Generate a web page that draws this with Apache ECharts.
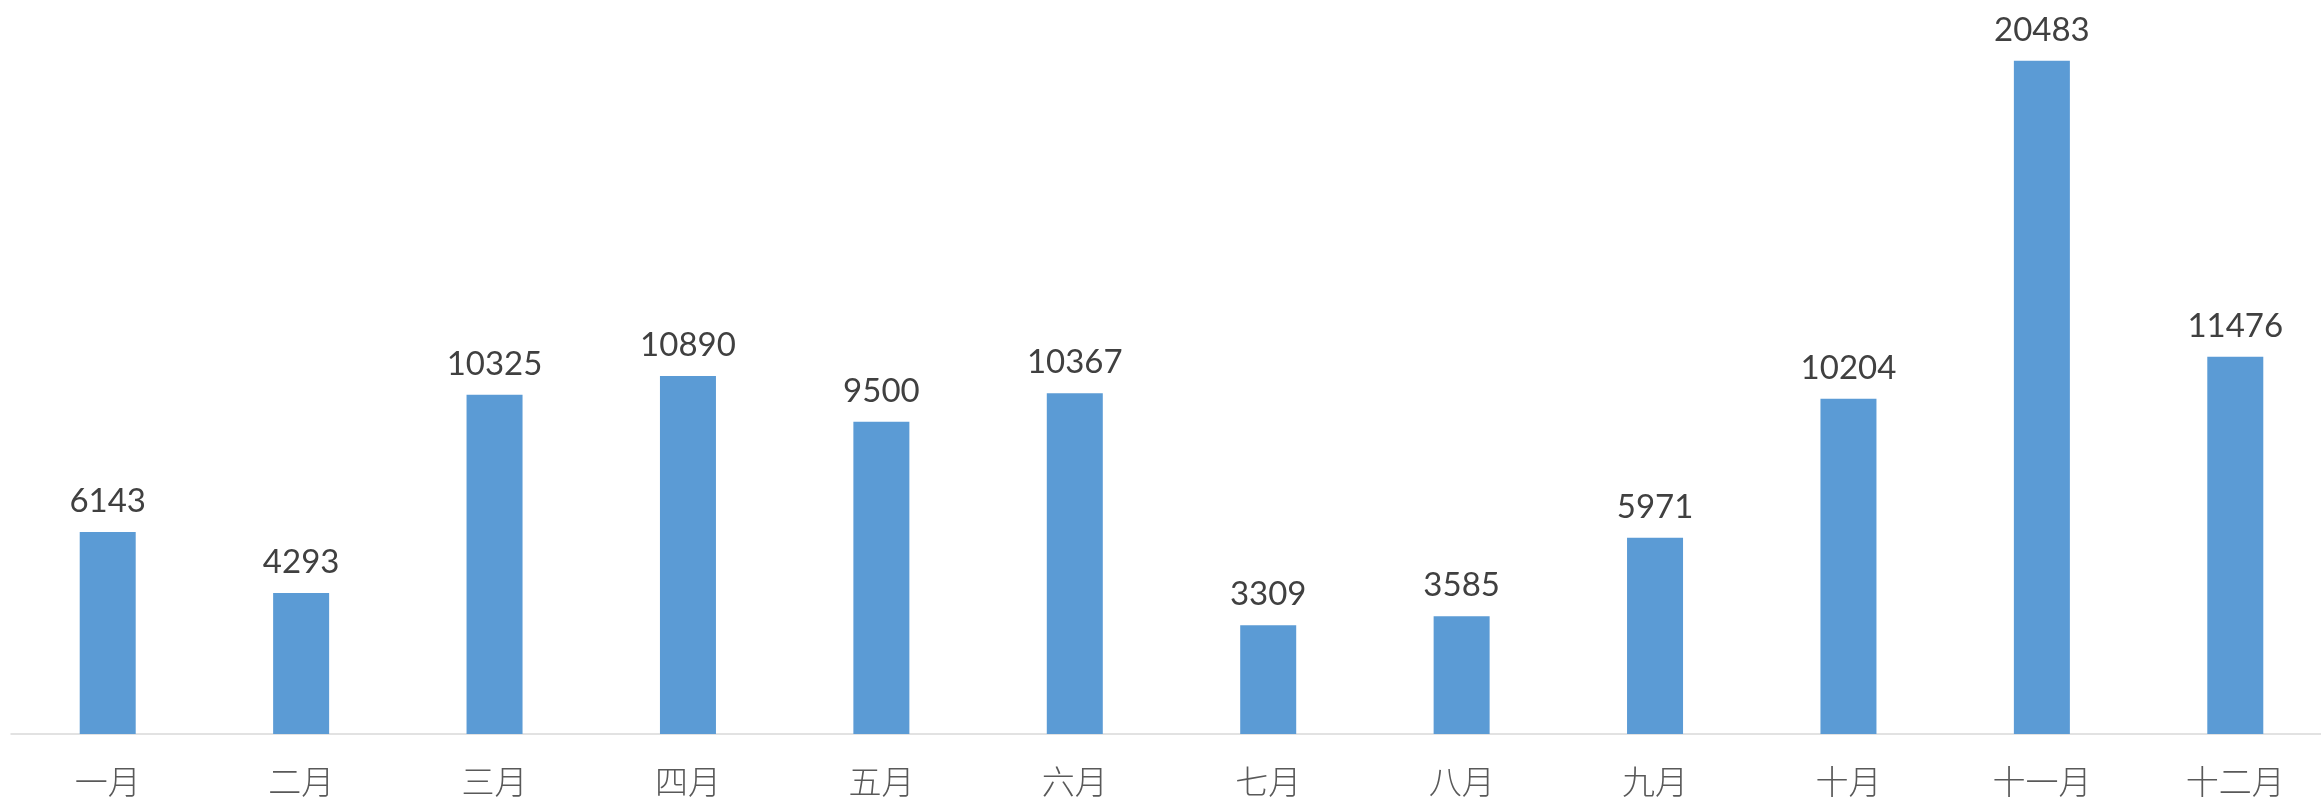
<!DOCTYPE html>
<html>
<head>
<meta charset="utf-8">
<style>
  html, body { margin: 0; padding: 0; background: #fff; }
  #chart { width: 2321px; height: 804px; }
</style>
<script src="https://cdn.jsdelivr.net/npm/echarts@6/dist/echarts.min.js"></script>
</head>
<body>
<div id="chart"></div>
<script>
// months and monthly totals
const months = ['一月', '二月', '三月', '四月', '五月', '六月', '七月', '八月', '九月', '十月', '十一月', '十二月'];
const values = [6143, 4293, 10325, 10890, 9500, 10367, 3309, 3585, 5971, 10204, 20483, 11476];

const chart = echarts.init(document.getElementById('chart'));
chart.setOption({
  backgroundColor: '#fff',
  animation: false,
  grid: { left: 11, top: 11, width: 2321, bottom: 70, containLabel: false, outerBoundsMode: 'none' },
  xAxis: {
    type: 'category',
    data: months,
    axisLine: { lineStyle: { color: '#d9d9d9', width: 1.5 } },
    axisTick: { show: false },
    axisLabel: { color: '#595959', fontSize: 33, margin: 31, fontFamily: 'Noto Sans CJK SC', fontWeight: 300 }
  },
  yAxis: {
    type: 'value', min: 0, max: 22000,
    show: false,
    splitLine: { show: false }
  },
  series: [{
    type: 'bar',
    data: values,
    barWidth: 56,
    itemStyle: { color: '#5b9bd5' },
    label: {
      show: true, position: 'top', distance: 14,
      color: '#404040', fontSize: 33, fontFamily: 'Lato'
    }
  }]
});
</script>
</body>
</html>
